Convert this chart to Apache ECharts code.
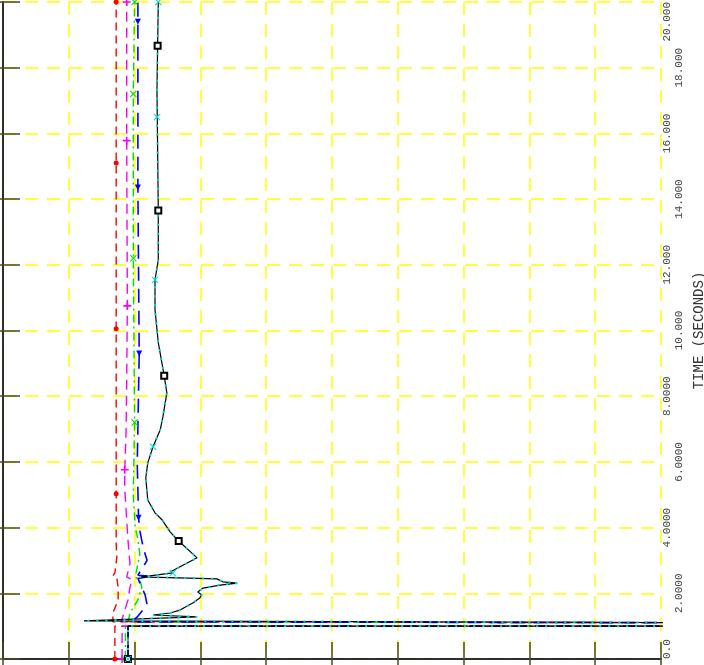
<!DOCTYPE html>
<html><head><meta charset="utf-8">
<script src="https://cdn.jsdelivr.net/npm/echarts@6/dist/echarts.min.js"></script>
<style>html,body{margin:0;padding:0;background:#fff}#c{width:704px;height:665px}</style>
</head><body><div id="c"></div>
<script>
// Time axis (seconds) tick labels, as printed on the plot
const timeTickLabels = ['0.0','2.0000','4.0000','6.0000','8.0000','10.000','12.000','14.000','16.000','18.000','20.000'];
const axisTitle = 'TIME (SECONDS)';

// Each point: [time (s), value, marker flag]
const redData = [[0,1.70,1],[1.0,1.70],[1.0,12],[1.1,12],[1.13,1.67],[1.40,1.67],[1.80,1.75],[2.19,1.75],[2.45,1.73],[2.53,1.67],[2.62,1.70],[3.10,1.73],[3.50,1.72],[4.0,1.72],[5.03,1.72,1],[10.05,1.72,1],[15.1,1.72,1],[20,1.72,1]];
const magentaData = [[0,1.81,1],[1.0,1.81],[1.0,12],[1.1,12],[1.13,1.79],[1.28,1.82],[1.80,1.90],[2.19,1.93],[2.42,1.96],[2.50,1.88],[2.90,1.93],[3.6,1.90],[4.23,1.88],[5.2,1.85],[5.76,1.85,1],[6.9,1.87],[8.5,1.88],[10.75,1.89,1],[15.78,1.88,1],[20,1.88,1]];
const greenData = [[0,1.86,1],[1.0,1.86],[1.0,12],[1.1,12],[1.13,1.90],[1.40,1.93],[1.80,2.05],[2.19,2.11],[2.40,2.08],[2.50,2.01],[3.2,2.08],[3.75,2.04],[4.0,2.01],[5.0,1.98],[7.2,2.00,1],[12.2,1.98,1],[17.2,1.98,1],[20,2.00,1]];
const blueData = [[0,1.90,1],[1.0,1.90],[1.0,12],[1.1,12],[1.13,1.95],[1.28,2.04],[1.65,2.19],[1.95,2.16],[2.45,2.05],[2.52,2.25],[2.55,2.05],[3.0,2.19],[3.4,2.13],[3.9,2.08],[4.3,2.06,1],[5.97,2.04],[7.0,2.05],[9.3,2.07,1],[14.35,2.05,1],[19.4,2.05,1],[20,2.05]];
const blackData = [[0,1.90,1],[1.0,1.90],[1.0,12],[1.1,12],[1.16,1.23],[1.28,2.95],[1.34,2.28],[1.40,2.54],[1.49,2.69],[1.71,2.89],[1.86,2.99],[1.95,3.02],[2.04,2.96],[2.16,3.04],[2.25,3.30],[2.31,3.56],[2.35,3.34],[2.44,3.25],[2.50,2.08],[2.53,2.23],[2.62,2.58],[2.65,2.54],[3.08,2.95],[3.59,2.67,1],[3.87,2.54],[4.23,2.42],[4.45,2.31],[4.84,2.20],[5.51,2.17],[5.97,2.20],[6.46,2.28],[6.98,2.39],[7.37,2.43],[8.10,2.49],[8.62,2.45,1],[9.63,2.36],[10.63,2.31],[11.54,2.31],[12.15,2.36],[13.65,2.36,1],[15.5,2.35],[17.33,2.34],[18.67,2.35,1],[20,2.36]];
const cyanData = [[0,1.90,1],[1.0,1.90],[1.0,12],[1.1,12],[1.16,1.23],[1.28,2.95],[1.34,2.28],[1.40,2.54],[1.49,2.69],[1.71,2.89],[1.86,2.99],[1.95,3.02],[2.04,2.96],[2.16,3.04],[2.25,3.30],[2.31,3.56],[2.35,3.34],[2.44,3.25],[2.50,2.08],[2.53,2.23],[2.62,2.58,1],[2.65,2.54],[3.08,2.95],[3.59,2.67],[3.87,2.54],[4.23,2.42],[4.45,2.31],[4.84,2.20],[5.51,2.17],[5.97,2.20],[6.46,2.28,1],[6.98,2.39],[7.37,2.43],[8.10,2.49],[8.62,2.45],[9.63,2.36],[10.63,2.31],[11.54,2.31,1],[12.15,2.36],[13.65,2.36],[15.5,2.35],[16.5,2.34,1],[17.33,2.34],[18.67,2.35],[20,2.36,1]];

const FONT = 'Liberation Mono';
const PLUS = 'path://M4,0h2v4h4v2h-4v4h-2v-4h-4v-2h4z';
const XMARK = 'path://M0,1L1,0L5,4L9,0L10,1L6,5L10,9L9,10L5,6L1,10L0,9L4,5Z';

const styles = [
  {data: redData, color: '#ff0000', type: [8,5], width: 1.4, symbol: 'circle', size: 5},
  {data: magentaData, color: '#ff00ff', type: [10,6], width: 1.4, symbol: PLUS, size: 8},
  {data: greenData, color: '#00e000', type: [8,4,2,4], width: 1.4, symbol: XMARK, size: 7},
  {data: blueData, color: '#0000ff', type: [14,8], width: 1.6, symbol: 'triangle', size: 6, rot: 180},
  {data: blackData, color: '#000000', type: 'solid', width: 1.2, symbol: 'emptyRect', size: 6},
  {data: cyanData, color: '#00d8d8', type: [2,7], width: 2, symbol: XMARK, size: 7}
];

function toSeries(s) {
  return {
    type: 'line', xAxisIndex: 0, yAxisIndex: 0,
    showSymbol: true, showAllSymbol: true, symbol: 'none',
    clip: true, animation: false,
    lineStyle: {color: s.color, width: s.width, type: s.type},
    itemStyle: {color: s.color},
    data: s.data.map(p => p[2]
      ? {value: [p[1], p[0]], symbol: s.symbol, symbolSize: s.size, symbolRotate: s.rot || 0}
      : {value: [p[1], p[0]], symbol: 'none'})
  };
}

const labelOf = v => timeTickLabels[Math.round(v / 2)];
const axisLineStyle = {show: true, lineStyle: {color: '#222', width: 1.5}};
const tickStyle = {show: true, inside: true, length: 17, lineStyle: {color: '#4a4a22', width: 1.5}};
const gridDash = {show: true, lineStyle: {color: '#ffff00', width: 1.5, type: [13, 9]}};

function labelAxis(filter, margin, align) {
  const a = {
    type: 'value', position: 'right', min: 0, max: 20, interval: 2,
    axisLine: {show: false}, axisTick: {show: false}, splitLine: {show: false},
    axisLabel: {
      show: true, rotate: 90, margin: margin, color: '#444', fontFamily: FONT, fontSize: 11,
      formatter: v => filter(Math.round(v / 2)) ? labelOf(v) : ''
    }
  };
  if (align) a.axisLabel.align = align;
  return a;
}

const option = {
  backgroundColor: '#ffffff',
  animation: false,
  grid: {left: 3, right: 43, top: 2, bottom: 6, containLabel: false, outerBoundsMode: 'none'},
  xAxis: [
    {type: 'value', position: 'bottom', min: 0, max: 10, interval: 1,
     axisLine: axisLineStyle, axisTick: tickStyle, axisLabel: {show: false}, splitLine: gridDash},
    {type: 'value', position: 'top', min: 0, max: 10, interval: 1,
     axisLine: axisLineStyle, axisTick: tickStyle, axisLabel: {show: false}, splitLine: {show: false}}
  ],
  yAxis: [
    {type: 'value', position: 'right', min: 0, max: 20, interval: 2,
     axisLine: axisLineStyle, axisTick: tickStyle, axisLabel: {show: false}, splitLine: gridDash,
     name: axisTitle, nameLocation: 'middle', nameRotate: 90, nameGap: 31,
     nameTextStyle: {fontFamily: FONT, fontSize: 14, color: '#333'}},
    {type: 'value', position: 'left', min: 0, max: 20, interval: 2,
     axisLine: axisLineStyle, axisTick: tickStyle, axisLabel: {show: false}, splitLine: {show: false}},
    labelAxis(i => i % 2 === 0 && i !== 0 && i !== 10, 1),
    labelAxis(i => i % 2 === 1, 13),
    labelAxis(i => i === 0, 1, 'left'),
    labelAxis(i => i === 10, 1, 'right')
  ],
  series: styles.map(toSeries)
};

const chart = echarts.init(document.getElementById('c'), null, {renderer: 'canvas'});
chart.setOption(option);
</script>
</body></html>
